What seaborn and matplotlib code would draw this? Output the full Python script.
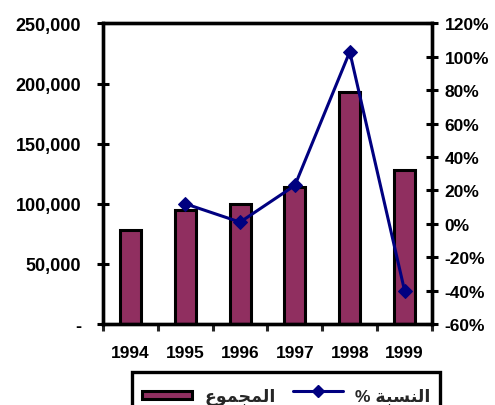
import numpy as np
import pandas as pd
import matplotlib
matplotlib.use("Agg")
import matplotlib.pyplot as plt
import seaborn as sns
from matplotlib.patches import Patch, Rectangle
from matplotlib.lines import Line2D
from matplotlib.legend_handler import HandlerPatch

# ---- data ----
years = ["1994", "1995", "1996", "1997", "1998", "1999"]
totals = [78000, 95000, 100000, 114000, 193000, 128000]
pct_years = ["1995", "1996", "1997", "1998", "1999"]
pct_values = [12, 1, 23, 103, -40]
left_ticks = [0, 50000, 100000, 150000, 200000, 250000]
right_ticks = [-60, -40, -20, 0, 20, 40, 60, 80, 100, 120]

# Arabic labels (presentation forms, visual order)
label_total = "\uFEC9\uFEEE\uFEE4\uFEA0\uFEE4\uFEDF\uFE8D"          # المجموع
label_pct = "% " + "\uFE94\uFE92\uFEB4\uFEE8\uFEDF\uFE8D"           # النسبة %

sns.set_style("white")
plt.rcParams['font.family'] = ['Liberation Sans', 'DejaVu Sans']
plt.rcParams['font.weight'] = 'bold'

bar_color = "#902F60"
line_color = "#000080"

fig = plt.figure(figsize=(4.95, 4.06), dpi=100)
ax = fig.add_axes([0.2081, 0.1995, 0.8727 - 0.2081, 0.9399 - 0.1995])

df = pd.DataFrame({"year": years, "total": totals})
sns.barplot(data=df, x="year", y="total", ax=ax, color=bar_color, saturation=1,
            width=0.38, edgecolor="black", linewidth=2.2, order=years)

ax2 = ax.twinx()
dfl = pd.DataFrame({"pos": [years.index(y) for y in pct_years], "pct": pct_values})
sns.lineplot(data=dfl, x="pos", y="pct", ax=ax2, color=line_color, linewidth=2.2,
             marker="D", markersize=7.5, markeredgecolor=line_color)

ax.set_xlim(-0.5, len(years) - 0.5)
ax.set_ylim(left_ticks[0], left_ticks[-1])
ax2.set_ylim(right_ticks[0], right_ticks[-1])

ax.set_yticks(left_ticks)
ax.set_yticklabels(["-" if v == 0 else f"{v:,}" for v in left_ticks])
ax2.set_yticks(right_ticks)
ax2.set_yticklabels([f"{v}%" for v in right_ticks])

ax.set_xticks(np.arange(-0.5, len(years), 1.0))
ax.set_xticklabels([""] * (len(years) + 1))
ax.set_xticks(range(len(years)), minor=True)
ax.set_xticklabels(years, minor=True)

ax.set_xlabel("")
ax.set_ylabel("")
ax2.set_xlabel("")
ax2.set_ylabel("")

for a in (ax, ax2):
    for s in a.spines.values():
        s.set_visible(True)
        s.set_linewidth(2.4)
        s.set_color("black")

ax.tick_params(axis="y", which="major", direction="inout", length=8.5, width=2.2,
               pad=11.5, labelsize=13, colors="black", left=True)
ax2.tick_params(axis="y", which="major", direction="inout", length=8.5, width=2.2,
                pad=5, labelsize=12.5, colors="black", right=True)
ax.tick_params(axis="x", which="major", direction="out", length=5, width=2.2,
               bottom=True)
ax.tick_params(axis="x", which="minor", length=0, pad=15, labelsize=12.5,
               colors="black")
for t in ax.get_xticklabels(minor=True) + ax.get_yticklabels() + ax2.get_yticklabels():
    t.set_fontweight("bold")


def slim_rect(legend, orig_handle, xdescent, ydescent, width, height, fontsize):
    h = height * 0.32
    return Rectangle((-xdescent, -ydescent + (height - h) / 2), width, h)


handles = [Patch(facecolor=bar_color, edgecolor="black", linewidth=2.2),
           Line2D([], [], color=line_color, linewidth=2.2, marker="D",
                  markersize=6.5, markeredgecolor=line_color)]
leg = fig.legend(handles, [label_total, label_pct], loc="upper left",
                 bbox_to_anchor=(132 / 495, 1 - 373 / 406), ncol=2,
                 frameon=True, fancybox=False, shadow=False, framealpha=1,
                 prop={"size": 12.5, "weight": "bold"},
                 handler_map={Patch: HandlerPatch(patch_func=slim_rect)},
                 handlelength=2.9, handleheight=2.0, columnspacing=1.0,
                 handletextpad=0.7, borderpad=0.55, borderaxespad=0)
frame = leg.get_frame()
frame.set_edgecolor("black")
frame.set_linewidth(2.4)
frame.set_facecolor("white")

fig.savefig("out.png", dpi=100)
